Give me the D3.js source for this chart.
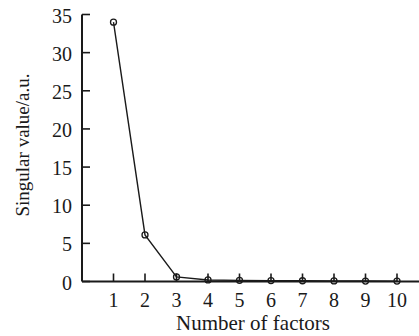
<!DOCTYPE html>
<html>
<head>
<meta charset="utf-8">
<script src="https://cdn.jsdelivr.net/npm/d3@7"></script>
<style>
  html, body { margin: 0; padding: 0; background: #fff; }
  svg { display: block; }
</style>
</head>
<body>
<div id="chart"></div>
<script>
// scree plot data
const factors = [1, 2, 3, 4, 5, 6, 7, 8, 9, 10];
const singularValues = [34.0, 6.1, 0.6, 0.2, 0.15, 0.12, 0.1, 0.08, 0.06, 0.05];
const yTicks = [0, 5, 10, 15, 20, 25, 30, 35];
const xLabel = 'Number of factors';
const yLabel = 'Singular value/a.u.';

const width = 419, height = 336;
const font = '"Liberation Serif", "Times New Roman", serif';
const ink = '#1a1a1a';

const svg = d3.select('#chart').append('svg')
  .attr('width', width)
  .attr('height', height)
  .style('background-color', '#fff');

const x = d3.scaleLinear().domain([0, 1]).range([82, 113.5]);
const y = d3.scaleLinear().domain([0, 35]).range([281.5, 14.5]);

const axes = svg.append('g').attr('class', 'axes');

// y axis line and inward ticks
axes.append('line')
  .attr('x1', x(0)).attr('x2', x(0))
  .attr('y1', y(35)).attr('y2', y(0))
  .attr('stroke', ink).attr('stroke-width', 2);

axes.selectAll('.ytick')
  .data(yTicks)
  .enter()
  .append('line')
  .attr('class', 'ytick')
  .attr('x1', x(0)).attr('x2', x(0) + 8)
  .attr('y1', d => y(d)).attr('y2', d => y(d))
  .attr('stroke', ink).attr('stroke-width', 1.6);

axes.selectAll('.ylab')
  .data(yTicks)
  .enter()
  .append('text')
  .attr('class', 'ylab')
  .attr('x', x(0) - 10)
  .attr('y', d => y(d) + 1)
  .attr('dy', '0.35em')
  .attr('text-anchor', 'end')
  .attr('font-family', font)
  .attr('font-size', 20)
  .attr('fill', ink)
  .text(d => d);

// x axis line and upward ticks
axes.append('line')
  .attr('x1', x(0)).attr('x2', width)
  .attr('y1', y(0)).attr('y2', y(0))
  .attr('stroke', ink).attr('stroke-width', 2);

axes.selectAll('.xtick')
  .data(factors)
  .enter()
  .append('line')
  .attr('class', 'xtick')
  .attr('x1', d => x(d)).attr('x2', d => x(d))
  .attr('y1', y(0)).attr('y2', y(0) - 8)
  .attr('stroke', ink).attr('stroke-width', 1.6);

axes.selectAll('.xlab')
  .data(factors)
  .enter()
  .append('text')
  .attr('class', 'xlab')
  .attr('x', d => x(d))
  .attr('y', 307)
  .attr('text-anchor', 'middle')
  .attr('font-family', font)
  .attr('font-size', 20)
  .attr('fill', ink)
  .text(d => d);

svg.append('text')
  .attr('x', 253)
  .attr('y', 330)
  .attr('text-anchor', 'middle')
  .attr('font-family', font)
  .attr('font-size', 21)
  .attr('fill', ink)
  .text(xLabel);

svg.append('text')
  .attr('transform', 'translate(29,145) rotate(-90)')
  .attr('text-anchor', 'middle')
  .attr('font-family', font)
  .attr('font-size', 19)
  .attr('fill', ink)
  .text(yLabel);

// series
const points = factors.map((f, i) => ({ f: f, v: singularValues[i] }));

svg.append('path')
  .datum(points)
  .attr('fill', 'none')
  .attr('stroke', ink)
  .attr('stroke-width', 1.4)
  .attr('d', d3.line().x(d => x(d.f)).y(d => y(d.v)));

svg.selectAll('.marker')
  .data(points)
  .enter()
  .append('circle')
  .attr('class', 'marker')
  .attr('cx', d => x(d.f))
  .attr('cy', d => y(d.v))
  .attr('r', 3)
  .attr('fill', 'none')
  .attr('stroke', ink)
  .attr('stroke-width', 1.3);
</script>
</body>
</html>
